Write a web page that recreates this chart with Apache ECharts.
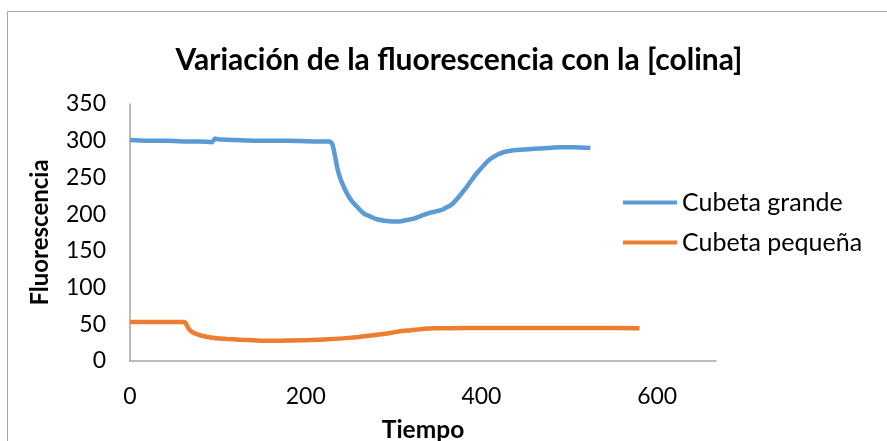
<!DOCTYPE html>
<html>
<head>
<meta charset="utf-8">
<script src="https://cdn.jsdelivr.net/npm/echarts@6/dist/echarts.min.js"></script>
<style>
html,body{margin:0;padding:0;background:#fff;}
#chart{width:887px;height:441px;}
</style>
</head>
<body>
<div id="chart"></div>
<script>
// ---- data ----
const titleText = 'Variación de la fluorescencia con la [colina]';
const xName = 'Tiempo';
const yName = 'Fluorescencia';
const seriesNames = ['Cubeta grande', 'Cubeta pequeña'];

const grandeT = [0, 20, 40, 60, 80, 93, 97, 100, 120, 150, 180, 210, 226, 230, 233, 236, 239, 243, 248, 253, 260, 266, 273, 281, 290, 298, 306, 315, 323, 332, 342, 353, 360, 366, 371, 376, 382, 388, 395, 403, 410, 418, 427, 437, 448, 460, 475, 490, 505, 524];
const grandeV = [301, 300, 300, 299, 299, 298, 303, 302, 301, 300, 300, 299, 299, 296, 281, 263, 250, 238, 226, 217, 208, 201, 197, 193, 191, 190, 190, 192, 194, 198, 202, 205, 209, 213, 219, 226, 235, 245, 256, 267, 275, 281, 285, 287, 288, 289, 290, 291, 291, 290];

const pequenaT = [0, 20, 40, 62, 64, 68, 75, 87, 98, 110, 125, 145, 165, 185, 205, 225, 250, 270, 290, 305, 320, 335, 350, 380, 420, 460, 500, 540, 580];
const pequenaV = [53, 53, 53, 53, 50, 42, 37, 33, 31, 30, 29, 28, 27.5, 28, 28.5, 29.5, 31.5, 34, 37, 40, 42, 44, 44.5, 45, 45, 45, 45, 45, 44.5];

const xMin = 0, xMax = 667, xInterval = 200;
const yMin = 0, yMax = 350, yInterval = 50;

function pairs(t, v) { return t.map((x, i) => [x, v[i]]); }

const FONT = 'Lato';
const chart = echarts.init(document.getElementById('chart'), null, {renderer: 'canvas'});
chart.setOption({
  animation: false,
  backgroundColor: '#ffffff',
  title: {
    text: titleText,
    left: 454, top: 40, textAlign: 'center',
    textStyle: {fontFamily: FONT, fontWeight: 'bold', fontSize: 30, color: '#000'}
  },
  graphic: [{
    type: 'rect', shape: {x: 7.5, y: 11.5, width: 1000, height: 1000},
    style: {fill: 'none', stroke: '#a6a6a6', lineWidth: 1}, silent: true, z: -1
  }],
  legend: {
    orient: 'vertical', left: 623, top: 190, padding: 0,
    icon: 'rect', itemWidth: 54, itemHeight: 4, itemGap: 15,
    textStyle: {fontFamily: FONT, fontSize: 25, color: '#000', lineHeight: 25},
    data: seriesNames
  },
  grid: {left: 130, top: 104, width: 586, height: 257, containLabel: false, outerBoundsMode: 'none'},
  xAxis: {
    type: 'value', min: xMin, max: xMax, interval: xInterval,
    name: xName, nameLocation: 'middle', nameGap: 57,
    nameTextStyle: {fontFamily: FONT, fontWeight: 'bold', fontSize: 24.5, color: '#000'},
    axisLine: {show: true, lineStyle: {color: '#a6a6a6', width: 1.5}},
    axisTick: {show: false},
    splitLine: {show: false},
    axisLabel: {showMaxLabel: false, margin: 24, fontFamily: FONT, fontSize: 23, color: '#000'}
  },
  yAxis: {
    type: 'value', min: yMin, max: yMax, interval: yInterval,
    name: yName, nameLocation: 'middle', nameGap: 78,
    nameTextStyle: {fontFamily: FONT, fontWeight: 'bold', fontSize: 24, color: '#000'},
    axisLine: {show: true, lineStyle: {color: '#a6a6a6', width: 1.5}},
    axisTick: {show: false},
    splitLine: {show: false},
    axisLabel: {margin: 24, fontFamily: FONT, fontSize: 23, color: '#000'}
  },
  series: [
    {name: seriesNames[0], type: 'line', data: pairs(grandeT, grandeV), showSymbol: false,
     smooth: 0.3, lineStyle: {color: '#5B9BD5', width: 4.5}, itemStyle: {color: '#5B9BD5'}},
    {name: seriesNames[1], type: 'line', data: pairs(pequenaT, pequenaV), showSymbol: false,
     smooth: 0.3, lineStyle: {color: '#ED7D31', width: 4.5}, itemStyle: {color: '#ED7D31'}}
  ]
});
</script>
</body>
</html>
